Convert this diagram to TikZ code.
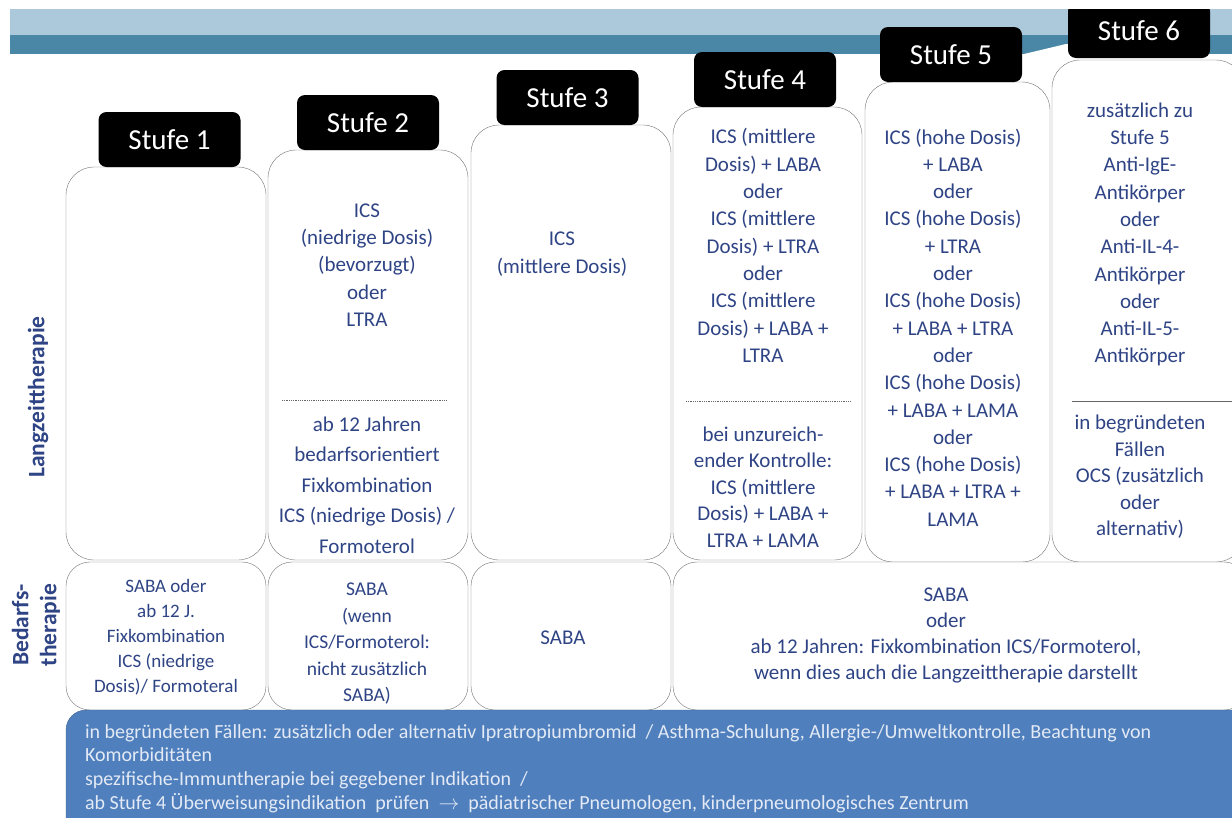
\documentclass[tikz,border=0pt]{standalone}
\usepackage{fontspec}
\setmainfont{Carlito}
\usetikzlibrary{positioning}
\definecolor{navy}{HTML}{2F4485}
\definecolor{bannerlight}{HTML}{ABC9DA}
\definecolor{bannerdark}{HTML}{4A87A6}
\definecolor{notefill}{HTML}{4F7FBD}
\definecolor{notetext}{HTML}{E3EAF5}
\begin{document}
\begin{tikzpicture}[x=1pt,y=-1pt,
                    every node/.style=    {inner sep=0pt,outer sep=0pt},
                    col box/.style=       {draw=black!55,fill=white,rounded corners=28pt,anchor=north west},
                    need box/.style=      {col box,rounded corners=24pt},
                    stufe box/.style=     {fill=black,rounded corners=8pt,minimum width=142pt,minimum height=55pt,
                                           text=white,font=\fontsize{29}{30}\selectfont},
                    txt/.style=           {text=navy,align=center,font=\fontsize{21}{27.3}\selectfont},
                    side label/.style=    {text=navy,rotate=90,align=center,font=\bfseries\fontsize{23.5}{28}\selectfont},
                    sep line/.style=      {draw=black!60,densely dotted,line width=0.8pt}]
  \clip (0,0) rectangle (1232,817);
  \useasboundingbox (0,0) rectangle (1232,817);
  \fill[bannerlight] (10,9) rectangle (1232,35);
  \fill[bannerdark] (10,35) rectangle (1232,54);
  \fill[white] (1022,54.5) -- (1066,44) -- (1140,44) -- (1200,54.5) -- cycle;

  \node[col box, minimum width=200pt, minimum height=393pt] (l1) at (66,167) {};
  \node[col box, minimum width=200pt, minimum height=410pt] (l2) at (268,150) {};
  \node[col box, minimum width=200pt, minimum height=435pt] (l3) at (471,125) {};
  \node[col box, minimum width=189pt, minimum height=453pt] (l4) at (673,107) {};
  \node[col box, minimum width=185pt, minimum height=480pt] (l5) at (865,82) {};
  \node[col box, minimum width=192pt, minimum height=502pt] (l6) at (1052,60) {};

  \node[stufe box, above=0pt of l1, xshift=3.5pt] (s1) {Stufe 1};
  \node[stufe box, above=0pt of l2] (s2) {Stufe 2};
  \node[stufe box, above=0pt of l3, xshift=-3.5pt] (s3) {Stufe 3};
  \node[stufe box, above=0pt of l4, xshift=-2.5pt] (s4) {Stufe 4};
  \node[stufe box, above=0pt of l5, xshift=-6.5pt] (s5) {Stufe 5};
  \node[stufe box, above=2pt of l6, xshift=-9pt] (s6) {Stufe 6};

  \node[need box, minimum width=200pt, minimum height=148pt] (b1) at (66,562) {};
  \node[need box, minimum width=200pt, minimum height=148pt] (b2) at (268,562) {};
  \node[need box, minimum width=200pt, minimum height=148pt] (b3) at (471,562) {};
  \node[need box, minimum width=575pt, minimum height=148pt] (b4) at (673,562) {};

  \node[draw=notefill!80!black,fill=notefill,rounded corners=20pt,anchor=north west,
        minimum width=1200pt,minimum height=140pt] (note) at (66,710) {};

  \fill[white] (0,0) rectangle (1232,8.6);

  \node[txt] (t2a) at (367,265) {ICS\\(niedrige Dosis)\\(bevorzugt)\\oder\\LTRA};
  \draw[sep line] (282,400) -- (447,400);
  \node[txt, font=\fontsize{21}{30.5}\selectfont] (t2b) at (367,485)
       {ab 12 Jahren\\bedarfsorientiert\\Fixkombination\\ICS (niedrige Dosis) /\\Formoterol};
  \node[txt, font=\fontsize{21}{28}\selectfont] (t3) at (562,254) {ICS\\(mittlere Dosis)};
  \node[txt] (t4a) at (763,245.5)
       {ICS (mittlere\\Dosis) + LABA\\oder\\ICS (mittlere\\Dosis) + LTRA\\oder\\ICS (mittlere\\Dosis) + LABA +\\LTRA};
  \draw[sep line] (686,401) -- (851,401);
  \node[txt, font=\fontsize{21}{26.5}\selectfont] (t4b) at (763,487)
       {bei unzureich-\\ender Kontrolle:\\ICS (mittlere\\Dosis) + LABA +\\LTRA + LAMA};
  \node[txt] (t5) at (953,327.5)
       {ICS (hohe Dosis)\\+ LABA\\oder\\ICS (hohe Dosis)\\+ LTRA\\oder\\ICS (hohe Dosis)\\+ LABA + LTRA\\oder\\
        ICS (hohe Dosis)\\+ LABA + LAMA\\oder\\ICS (hohe Dosis)\\+ LABA + LTRA +\\LAMA};
  \node[txt] (t6a) at (1140,234.5)
       {zusätzlich zu\\Stufe 5\\Anti-IgE-\\Antikörper\\oder\\Anti-IL-4-\\Antikörper\\oder\\Anti-IL-5-\\Antikörper};
  \draw[draw=black!60,line width=0.8pt] (1072,401) -- (1232,401);
  \node[txt, font=\fontsize{21}{26.5}\selectfont] (t6b) at (1140,477)
       {in begründeten\\Fällen\\OCS (zusätzlich\\oder\\alternativ)};

  \node[txt, font=\fontsize{19}{25}\selectfont] (n1) at (166,637)
       {SABA oder\\ab 12 J.\\Fixkombination\\ICS (niedrige\\Dosis)/ Formoteral};
  \node[txt, font=\fontsize{19.5}{26.5}\selectfont] (n2) at (367,644)
       {SABA\\(wenn\\ICS/Formoterol:\\nicht zusätzlich\\SABA)};
  \node[txt] (n3) at (563,638) {SABA};
  \node[txt, font=\fontsize{21}{26.3}\selectfont] (n4) at (946,635.5)
       {SABA\\oder\\ab 12 Jahren: Fixkombination ICS/Formoterol,\\wenn dies auch die Langzeittherapie darstellt};

  \node[side label] (lz) at (38,397) {Langzeittherapie};
  \node[side label] (bd) at (36,625) {Bedarfs-\\therapie};

  \node[text=notetext,align=left,anchor=west,font=\fontsize{20}{23.7}\selectfont] (nt) at (85,768.5)
       {in begründeten Fällen: zusätzlich oder alternativ Ipratropiumbromid \ / Asthma-Schulung, Allergie-/Umweltkontrolle, Beachtung von\\
        Komorbiditäten\\
        spezifische-Immuntherapie bei gegebener Indikation \ /\\
        ab Stufe 4 Überweisungsindikation \ prüfen \ $\rightarrow$ \ pädiatrischer Pneumologen, kinderpneumologisches Zentrum};
\end{tikzpicture}
\end{document}
